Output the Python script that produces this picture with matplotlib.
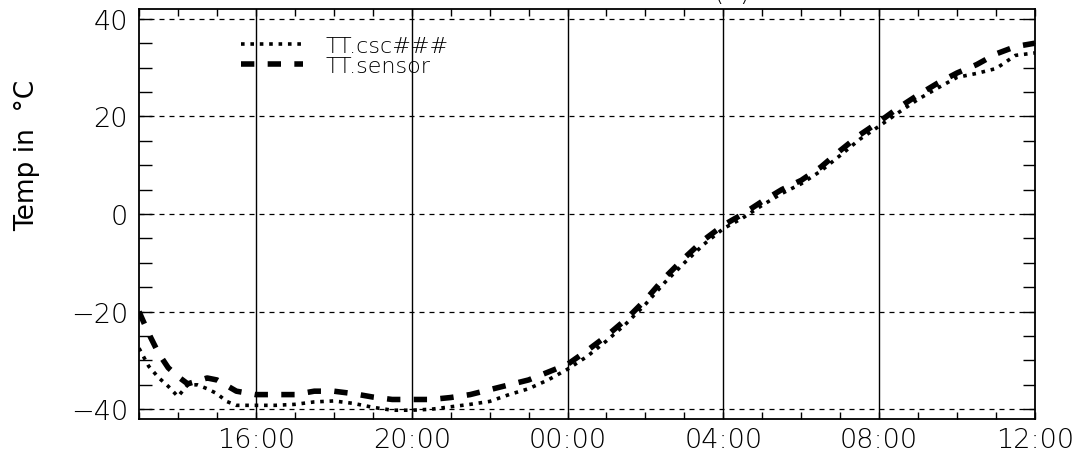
import matplotlib
matplotlib.use("Agg")
import matplotlib.pyplot as plt
from matplotlib.lines import Line2D
from matplotlib.ticker import MultipleLocator

plt.rcParams['font.family'] = ['DejaVu Sans']
plt.rcParams['font.weight'] = 'light'

# hours after 13:00 on the first day
sensor_hours = [0.0, 0.25, 0.5, 0.75, 1.0, 1.25, 1.5, 1.75, 2.0, 2.5, 3.0, 3.5, 4.0, 4.5,
                5.0, 5.5, 6.0, 6.5, 7.0, 7.5, 8.0, 8.5, 9.0, 9.5, 10.0, 10.5, 11.0,
                11.5, 12.0, 12.5, 13.0, 13.5, 14.0, 14.5, 15.0, 15.5, 16.0, 16.5,
                17.0, 17.5, 18.0, 18.5, 19.0, 19.5, 20.0, 20.5, 21.0, 21.5, 22.0,
                22.5, 23.0]
sensor_temp = [-20.0, -24.5, -28.5, -31.5, -33.3, -34.8, -34.2, -33.6, -34.0, -36.3,
               -37.0, -37.0, -37.0, -36.3, -36.3, -36.8, -37.5, -38.0, -38.0, -38.0,
               -37.6, -37.0, -36.0, -35.0, -34.0, -32.4, -30.8, -28.0, -25.0, -21.6,
               -17.6, -13.0, -9.0, -5.3, -2.3, 0.0, 2.6, 5.0, 6.9, 9.6, 13.0, 16.2,
               18.9, 21.8, 24.4, 26.8, 28.9, 30.6, 32.8, 34.3, 35.0]

csc_hours = [0.0, 0.25, 0.5, 0.75, 1.0, 1.25, 1.5, 1.75, 2.0, 2.25, 2.5, 3.0, 3.5, 4.0,
             4.5, 5.0, 5.5, 6.0, 6.5, 7.0, 7.5, 8.0, 8.5, 9.0, 9.5, 10.0, 10.5, 11.0,
             11.5, 12.0, 12.5, 13.0, 13.5, 14.0, 14.5, 15.0, 15.5, 16.0, 16.5, 17.0,
             17.5, 18.0, 18.5, 19.0, 19.5, 20.0, 20.5, 21.0, 21.5, 22.0, 22.5, 23.0]
csc_temp = [-27.5, -31.2, -33.5, -35.3, -37.4, -35.0, -35.0, -35.8, -36.8, -38.4,
            -39.2, -39.2, -39.2, -39.0, -38.5, -38.3, -38.8, -39.6, -40.2, -40.2,
            -40.0, -39.5, -39.0, -38.4, -37.0, -35.8, -34.0, -31.8, -29.2, -26.0,
            -22.5, -18.5, -14.0, -10.0, -6.2, -3.0, -0.8, 1.8, 4.2, 6.2, 8.8, 12.0,
            15.3, 18.0, 20.8, 23.5, 25.8, 28.0, 28.8, 29.8, 32.5, 33.0]

tick_hours = [3, 7, 11, 15, 19, 23]
tick_labels = ['16:00', '20:00', '00:00', '04:00', '08:00', '12:00']

csc_style = dict(color='black', lw=2.6, linestyle=(0, (1, 1.6)))
sensor_style = dict(color='black', lw=4.0, linestyle=(0, (2.4, 2.4)))

W, H = 1077, 460
fig = plt.figure(figsize=(W / 100, H / 100), dpi=100)
ax = fig.add_axes([139 / W, 40 / H, (1035 - 139) / W, 410 / H])

ax.plot(csc_hours, csc_temp, label='TT.csc###', **csc_style)
ax.plot(sensor_hours, sensor_temp, label='TT.sensor', **sensor_style)

ax.set_xlim(0, 23)
ax.set_ylim(-42, 42)

ax.set_xticks(tick_hours)
ax.set_xticklabels(tick_labels)
ax.xaxis.set_minor_locator(MultipleLocator(1))
ax.set_yticks([-40, -20, 0, 20, 40])
ax.yaxis.set_minor_locator(MultipleLocator(5))

ax.tick_params(which='both', direction='in', top=True, right=True, labelsize=19.5,
               width=1, color='black')
ax.tick_params(axis='y', which='both', length=9, pad=8)
ax.tick_params(axis='x', which='both', length=5, pad=6)

# vertical grid solid, horizontal grid dashed
for h in tick_hours[:-1]:
    ax.axvline(h, color='black', lw=1.0, zorder=0)
for t in [-40, -20, 0, 20, 40]:
    ax.axhline(t, color='black', lw=0.9, linestyle=(0, (4, 4)), zorder=0)

for s in ax.spines.values():
    s.set_linewidth(1.3)

ax.set_ylabel('Temp in  °C', fontsize=19)
ax.yaxis.set_label_coords(-0.11, 0.645)

handles = [Line2D([], [], **csc_style), Line2D([], [], **sensor_style)]
ax.legend(handles, ['TT.csc###', 'TT.sensor'], loc='upper left',
          bbox_to_anchor=((230 - 139) / 896, (420 - 26) / 410), frameon=False,
          fontsize=16, handlelength=2.8, handletextpad=1.0, borderpad=0,
          labelspacing=0.0)

fig.text(732 / W, 1.0, '(b)', fontsize=19, ha='center', va='baseline')

fig.savefig('out.png', dpi=100)
